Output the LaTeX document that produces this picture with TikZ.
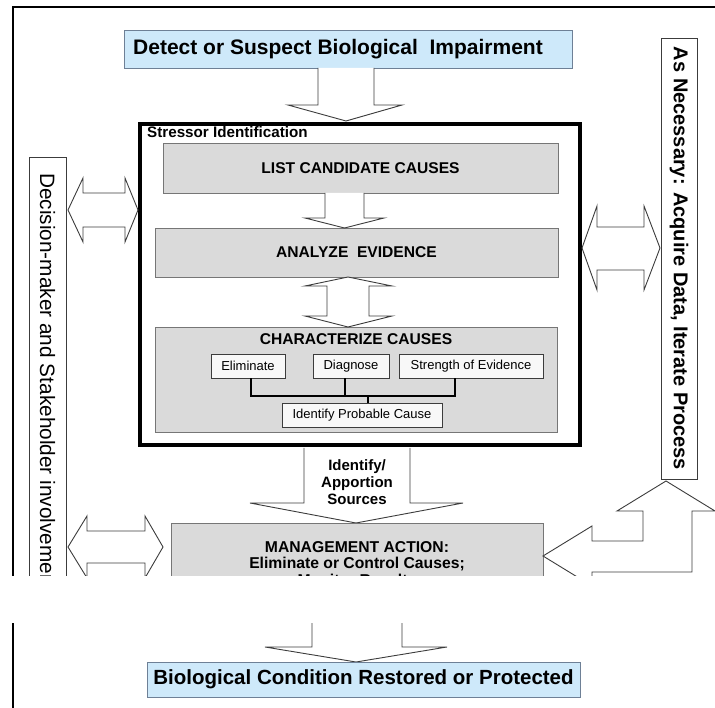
\documentclass[tikz,border=0pt]{standalone}
\usepackage{fontspec}
\setmainfont{Liberation Sans}
\definecolor{lightblue}{RGB}{206,233,250}
\definecolor{blueborder}{RGB}{110,128,150}
\definecolor{boxgray}{RGB}{218,218,218}
\definecolor{grayborder}{RGB}{118,118,118}
\definecolor{arrowline}{RGB}{60,60,60}
\definecolor{smallfill}{RGB}{248,248,248}
\begin{document}
\begin{tikzpicture}[x=1pt,y=-1pt,
  bluebox/.style={draw=blueborder, fill=lightblue, line width=0.8pt, inner sep=0pt,
    font=\bfseries\fontsize{20.5}{24}\selectfont},
  graybox/.style={draw=grayborder, fill=boxgray, line width=0.9pt, inner sep=0pt,
    font=\bfseries\fontsize{15.6}{18}\selectfont},
  smallbox/.style={draw=arrowline, fill=smallfill, line width=0.9pt, inner sep=0pt,
    minimum height=24pt, font=\fontsize{13}{15}\selectfont},
  sidebox/.style={draw=arrowline, fill=white, line width=0.9pt, inner sep=0pt},
  blockarrow/.style={draw=arrowline, fill=white, line width=0.9pt, line join=miter},
  framestyle/.style={line width=2pt, black},
  joinline/.style={line width=1.1pt, black}
]
\useasboundingbox (0,0) rectangle (715,708);

% frame
\draw[framestyle] (13,590) |- (716,7);

% top box
\node[bluebox, minimum width=448pt, minimum height=38pt] (detect) at (348,49) {};
\node[inner sep=0pt, font=\bfseries\fontsize{21}{24}\selectfont] (detecttext) at (338,49)
  {Detect or Suspect Biological\ \ Impairment};

% side boxes
\node[sidebox, minimum width=37pt, minimum height=443pt] (decbox) at (47.5,378.5) {};
\node[rotate=-90, anchor=west, inner sep=0pt, font=\fontsize{20.8}{24}\selectfont] (dectext)
  at (47.5,173) {Decision-maker and Stakeholder involvement};
\node[sidebox, minimum width=36pt, minimum height=441pt] (acqbox) at (679,258.5) {};
\node[rotate=-90, inner sep=0pt, font=\bfseries\fontsize{20}{24}\selectfont] (acqtext)
  at (679,258.5) {As Necessary: Acquire Data, Iterate Process};

% top arrow
\draw[blockarrow] (318,68) -- (318,105) -- (288,105) -- (346,121) -- (402,105) -- (374,105) -- (374,68);

% stressor identification box
\node[draw=black, line width=4pt, fill=white, minimum width=440pt, minimum height=321pt, inner sep=0pt]
  (stress) at (360,284.5) {};
\node[anchor=west, inner sep=0pt, font=\bfseries\fontsize{15.2}{17}\selectfont] (stlabel)
  at (147,132) {Stressor Identification};

\node[graybox, minimum width=395pt, minimum height=50pt] (list) at (360.5,168) {LIST CANDIDATE CAUSES};
\node[graybox, minimum width=403pt, minimum height=49pt] (analyze) at (356.5,252.5) {ANALYZE\ \ EVIDENCE};
\node[graybox, minimum width=402pt, minimum height=105pt] (char) at (356,379.5) {};
\node[inner sep=0pt, font=\bfseries\fontsize{15.6}{18}\selectfont] (chartitle) at (356,339) {CHARACTERIZE CAUSES};

\draw[blockarrow] (325,193) -- (325,218) -- (305,218) -- (344.5,228) -- (384,218) -- (364,218) -- (364,193);
\draw[blockarrow] (348,277) -- (392,286) -- (369,286) -- (369,316) -- (392,316) -- (348,327)
  -- (305,316) -- (327,316) -- (327,286) -- (305,286) -- cycle;

\node[smallbox, minimum width=74pt] (elim) at (248,366) {Eliminate};
\node[smallbox, minimum width=76pt] (diag) at (351,366) {Diagnose};
\node[smallbox, minimum width=144pt] (strength) at (471,366) {Strength of Evidence};
\node[smallbox, minimum width=160pt] (probable) at (362,415) {Identify Probable Cause};
\coordinate (joint) at (368,396);
\draw[joinline] ([xshift=3pt]elim.south) |- ([xshift=-16pt]strength.south |- joint) -- ([xshift=-16pt]strength.south);
\draw[joinline] ([xshift=-6pt]diag.south) -- ([xshift=-6pt]diag.south |- joint);
\draw[joinline] (joint) -- ([xshift=6pt]probable.north);

% side double arrows
\draw[blockarrow] (68,210) -- (83,178) -- (83,193) -- (125,193) -- (125,178) -- (138,210)
  -- (125,242) -- (125,227) -- (83,227) -- (83,242) -- cycle;
\draw[blockarrow] (582,248) -- (597,206) -- (597,227) -- (644,227) -- (644,206) -- (660,248)
  -- (644,290) -- (644,270) -- (597,270) -- (597,290) -- cycle;

% identify / apportion arrow
\draw[blockarrow] (304,448) -- (304,503) -- (250,503) -- (356,523) -- (463,503) -- (410,503) -- (410,448);
\node[align=center, inner sep=0pt, font=\bfseries\fontsize{15}{17}\selectfont] (apportion)
  at (357,482) {Identify/\\Apportion\\Sources};

% management action
\node[graybox, minimum width=372pt, minimum height=81pt, align=center,
  font=\bfseries\fontsize{15.7}{16.5}\selectfont] (mgmt) at (357,563.5)
  {MANAGEMENT ACTION:\\Eliminate or Control Causes;\\Monitor Results};

\draw[blockarrow] (68,547) -- (87,516) -- (87,531) -- (145,531) -- (145,516) -- (163,547)
  -- (145,578) -- (145,563) -- (87,563) -- (87,578) -- cycle;
\draw[blockarrow] (543,556) -- (592,526) -- (592,541) -- (643,541) -- (643,511) -- (617,511)
  -- (666,481) -- (715,511) -- (692,511) -- (692,572) -- (592,572) -- (592,586) -- cycle;

% bottom arrow
\draw[blockarrow] (312,604) -- (312,647) -- (265,647) -- (356,662) -- (447,647) -- (402,647) -- (402,604);

% page gap
\fill[white] (0,576) rectangle (715,623);
\draw[framestyle] (13,623) -- (13,709);

% bottom box
\node[bluebox, minimum width=433pt, minimum height=35pt] (restored) at (363.5,679.5)
  {Biological Condition Restored or Protected};
\end{tikzpicture}
\end{document}
